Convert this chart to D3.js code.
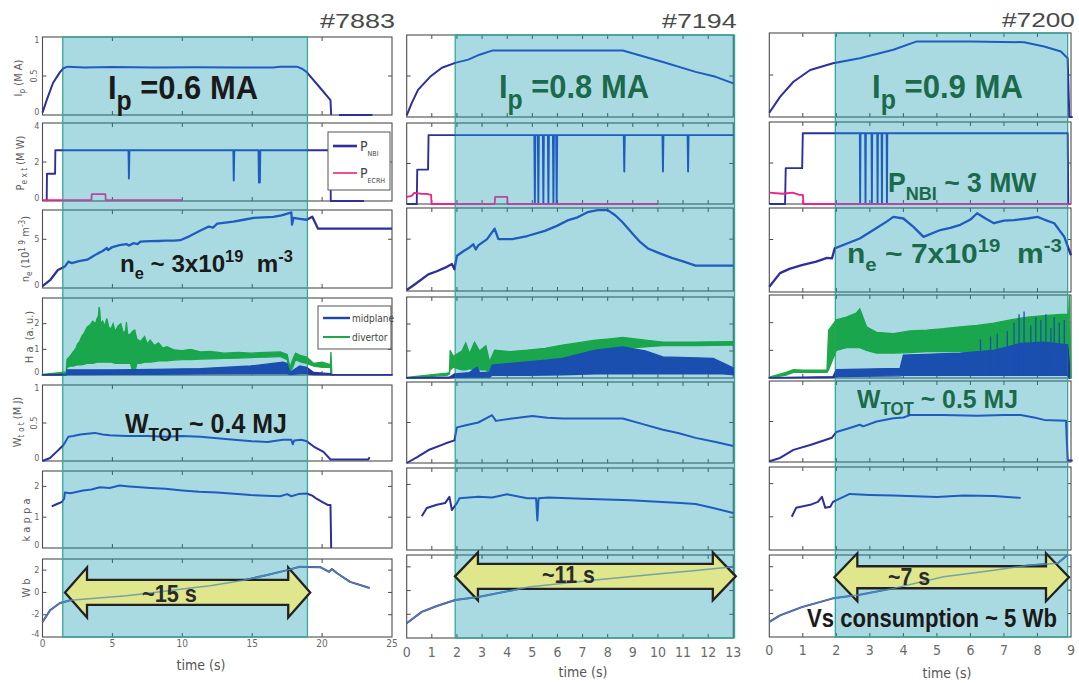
<!DOCTYPE html>
<html>
<head>
<meta charset="utf-8">
<script src="https://cdn.jsdelivr.net/npm/d3@7"></script>
<style>
  body { margin: 0; background: #fff; }
  svg { display: block; }
</style>
</head>
<body>
<svg id="chart" width="1079" height="683"></svg>
<script>
// ---------------- shot labels, time axes, flat-top windows ----------------
const shotLabels = ["#7883", "#7194", "#7200"];
const timeMax = [25, 13, 9];
const timeTicks7883 = [0, 5, 10, 15, 20, 25];
const timeTicks7194 = [0, 1, 2, 3, 4, 5, 6, 7, 8, 9, 10, 11, 12, 13];
const timeTicks7200 = [0, 1, 2, 3, 4, 5, 6, 7, 8, 9];
const flatTop = [[1.45, 18.95], [1.93, 13.05], [1.97, 8.9]];

// panel rows, top to bottom
const rowKeys = ["ip", "pext", "ne", "ha", "wtot", "kappa", "wb"];
const rowDomains = [[0, 1], [0, 4], [0, 8], [0, 3], [0, 1], [0, 2.5], [-4, 3]];
const rowTicks = [[0, 0.5, 1], [0, 2, 4], [0, 5], [0, 1, 2], [0, 0.5, 1], [0, 1, 2], [-4, -2, 0, 2]];

// ---------------- shot #7883 ----------------
const ip7883 = [[0,0.03],[0.3,0.19],[0.75,0.41],[1.25,0.55],[1.5,0.6],[1.8,0.62],[3,0.61],[5,0.615],[8,0.61],[11,0.612],[14,0.61],[16.5,0.61],[17,0.62],[18.2,0.62],[18.6,0.59],[18.9,0.55],[19.9,0.34],[20.6,0.19],[20.65,0],[20.9,null],[21.2,0],[23.6,0]];
const nbi7883 = [[0.3,0],[0.32,1.4],[0.9,1.4],[0.92,2.6],[6.15,2.6],[6.18,1.15],[6.22,2.6],[13.65,2.6],[13.68,1.05],[13.72,2.6],[15.45,2.6],[15.48,0.95],[15.55,0.95],[15.58,2.6],[20.6,2.6],[20.62,0],[23,0]];
const ecrh7883 = [[0,0.05],[3.5,0.05],[3.52,0.35],[4.5,0.35],[4.52,0.05],[10,0.05]];
const ne7883 = [[0,0.2],[0.54,0.8],[1.1,1.85],[1.6,2.2],[1.85,2.7],[2.1,2.55],[2.6,2.75],[3.2,2.9],[3.5,3.15],[3.9,3.5],[4.3,3.8],[4.6,4.1],[4.7,3.9],[5.0,4.2],[5.5,4.4],[6.0,4.5],[6.2,4.35],[6.5,4.6],[6.8,4.5],[7.0,4.75],[7.7,4.8],[8.3,4.82],[8.8,4.85],[9.4,4.85],[9.85,4.9],[10.5,5.3],[11.3,5.9],[11.9,6.3],[12.2,6.2],[12.5,6.6],[13.1,6.7],[13.65,6.8],[14.4,7.0],[15.1,7.2],[15.8,7.25],[16.5,7.3],[17.1,7.45],[17.7,7.7],[17.8,7.75],[17.85,6.5],[17.95,7.2],[18.4,7.1],[18.9,7.0],[19.3,7.3],[19.7,6.1],[25,6.1]];
const haDiv7883 = [[0,0,0.02],[1.4,0.03,0.1],[1.7,0.05,0.12],[1.75,0.3,0.6],[2.0,0.35,0.75],[2.2,0.35,0.9],[2.4,0.38,1.05],[2.5,0.4,1.2],[2.65,0.4,1.3],[2.8,0.4,1.5],[3.0,0.42,1.65],[3.2,0.45,1.87],[3.4,0.45,1.95],[3.6,0.45,2.1],[3.8,0.48,2.0],[3.9,0.5,2.2],[4.0,0.5,2.3],[4.05,0.5,2.65],[4.1,0.5,2.5],[4.15,0.5,2.0],[4.3,0.5,2.1],[4.45,0.5,1.9],[4.6,0.5,2.2],[4.75,0.5,1.85],[4.9,0.5,1.8],[5.05,0.48,2.0],[5.2,0.45,1.7],[5.4,0.45,1.9],[5.6,0.45,2.0],[5.8,0.45,1.6],[5.95,0.45,1.75],[6.0,0.45,2.06],[6.1,0.45,1.55],[6.3,0.45,1.6],[6.45,0.1,1.7],[6.6,0.1,1.75],[6.75,0.45,1.4],[7.0,0.45,1.3],[7.3,0.5,1.5],[7.5,0.5,1.2],[7.7,0.5,1.36],[8.0,0.52,1.15],[8.3,0.55,1.25],[8.6,0.55,1.05],[8.9,0.55,1.1],[9.4,0.58,0.98],[10,0.6,0.95],[10.6,0.6,1.0],[11.3,0.62,0.9],[12,0.63,0.92],[13,0.65,0.85],[14,0.66,0.88],[14.9,0.68,0.85],[16,0.7,0.88],[17,0.72,0.9],[17.5,0.6,0.8],[17.7,0.1,0.3],[17.9,0.3,0.6],[18.1,0.6,0.85],[18.5,0.5,0.75],[18.9,0.45,0.7],[19.4,0.35,0.45],[20,0.3,0.5],[20.6,0.3,0.4],[20.63,0,0.9],[20.7,0,0.02]];
const haMid7883 = [[0,0,0.01],[1.7,0,0.03],[1.75,0.02,0.2],[5,0.03,0.2],[8,0.03,0.22],[11.3,0.04,0.25],[14.9,0.05,0.35],[17.2,0.05,0.5],[17.5,0.05,0.45],[17.7,0.02,0.1],[18.4,0.05,0.35],[18.9,0.05,0.3],[19.4,0.02,0.1],[20.6,0.01,0.05],[20.7,0,0.01],[25,0,0.01]];
const wtot7883 = [[0,0],[0.54,0.04],[1.0,0.12],[1.5,0.21],[1.85,0.32],[2.2,0.33],[2.7,0.35],[3.2,0.36],[3.75,0.37],[4.3,0.35],[4.8,0.34],[6,0.33],[7.5,0.33],[8.9,0.32],[10,0.33],[11.3,0.32],[12.5,0.3],[13.7,0.28],[15,0.26],[16.1,0.25],[17.2,0.28],[17.8,0.28],[17.9,0.22],[18,0.27],[18.5,0.28],[18.9,0.26],[19.4,0.19],[20.1,0.12],[20.6,0.02],[23.3,0.02],[23.4,0.05]];
const kappa7883 = [[0.66,1.35],[1.0,1.42],[1.4,1.5],[1.55,1.6],[1.6,1.8],[2.0,1.78],[2.9,1.87],[3.5,1.9],[4.1,1.97],[4.8,1.95],[5.5,2.03],[6.2,2.0],[7.0,1.97],[7.7,1.95],[8.8,1.92],[10,1.87],[11.2,1.83],[12.5,1.8],[13.7,1.76],[14.9,1.72],[16,1.7],[17,1.68],[17.5,1.75],[17.8,1.68],[18.3,1.75],[18.9,1.77],[19.3,1.7],[19.6,1.6],[20,1.5],[20.4,1.4],[20.6,1.4],[20.65,0]];
const wb7883 = [[0,-2.65],[0.54,-1.6],[1.25,-0.95],[2,-0.7],[4,-0.5],[6,-0.3],[8,0.0],[10,0.3],[12,0.6],[14.4,1.1],[16,1.55],[17.5,2.0],[18.4,2.3],[19.9,2.25],[20.5,1.85],[20.7,2.1],[21.1,1.7],[22.0,0.95],[23.4,0.4]];
const spikes7883 = [];

// ---------------- shot #7194 ----------------
const ip7194 = [[0,0.02],[0.2,0.17],[0.45,0.33],[0.93,0.49],[1.4,0.6],[1.93,0.66],[2.45,0.7],[2.9,0.76],[3.4,0.81],[5,0.81],[7,0.81],[8.6,0.81],[9.4,0.74],[10.2,0.67],[11.5,0.55],[12.3,0.49],[13,0.41]];
const nbi7194 = [[0,0],[0.4,0],[0.42,1.7],[0.85,1.7],[0.87,3.4],[5.08,3.4],[5.1,0],[5.12,3.4],[5.22,3.4],[5.24,0],[5.26,3.4],[5.42,3.4],[5.44,0],[5.46,3.4],[5.62,3.4],[5.64,0],[5.66,3.4],[5.82,3.4],[5.84,0],[5.86,3.4],[5.95,3.4],[5.97,0],[5.99,3.4],[8.64,3.4],[8.66,1.6],[8.68,3.4],[10.18,3.4],[10.2,1.6],[10.22,3.4],[11.18,3.4],[11.2,1.6],[11.22,3.4],[13,3.4]];
const ecrh7194 = [[0,0.35],[0.2,0.4],[0.3,0.55],[0.6,0.5],[0.8,0.5],[0.97,0.45],[0.99,0],[3.5,0],[3.52,0.35],[4.0,0.35],[4.02,0],[10,0]];
const ne7194 = [[0,0.1],[0.33,0.65],[0.86,1.6],[1.2,1.9],[1.53,2.25],[1.8,2.6],[1.9,2.1],[2.0,3.4],[2.3,3.9],[2.5,4.2],[2.65,4.5],[2.75,4.0],[2.85,4.4],[3.2,5.0],[3.5,6.0],[3.65,5.0],[4.2,5.0],[4.8,5.3],[5.5,5.8],[6.0,6.3],[6.4,6.8],[6.8,7.1],[7.2,7.6],[7.6,7.8],[8.0,7.8],[8.3,7.3],[8.6,6.6],[9.0,5.5],[9.3,4.7],[9.6,4.1],[10.1,3.6],[10.55,3.2],[11.0,2.85],[11.5,2.45],[13,2.45]];
const haDiv7194 = [[0,0,0.02],[1.6,0.1,0.18],[1.7,0.15,0.2],[1.73,0.3,1.03],[1.85,0.4,0.8],[2.2,0.3,1.0],[2.35,0.3,1.3],[2.5,0.35,0.9],[2.7,0.3,1.33],[2.9,0.3,1.0],[3.15,0.3,1.2],[3.3,0.2,0.6],[3.5,0.5,1.03],[4.1,0.55,0.98],[4.8,0.6,1.03],[5.5,0.7,1.1],[6.2,0.75,1.22],[6.8,0.85,1.3],[7.5,0.95,1.4],[8.1,1.05,1.45],[8.6,1.1,1.5],[9.5,1.15,1.4],[10.2,1.2,1.33],[11.5,1.2,1.33],[13,1.22,1.35]];
const haMid7194 = [[0,0,0.01],[1.7,0,0.03],[1.9,0.02,0.15],[2.5,0.03,0.2],[2.8,0.03,0.4],[2.9,0.03,0.2],[3.3,0.03,0.22],[3.4,0.1,0.48],[4.8,0.1,0.6],[6.2,0.12,0.73],[7.5,0.15,1.03],[8.6,0.15,1.15],[9.5,0.15,1.0],[10.2,0.15,0.78],[12.2,0.15,0.73],[12.6,0.15,0.55],[13,0.12,0.37]];
const wtot7194 = [[0,0],[0.4,0.07],[0.87,0.16],[1.53,0.24],[1.9,0.28],[2.0,0.44],[2.4,0.47],[2.85,0.5],[3.4,0.59],[3.55,0.52],[4.2,0.55],[5.0,0.58],[5.6,0.56],[6.2,0.55],[7.4,0.55],[8.6,0.55],[9.4,0.48],[10.2,0.41],[10.8,0.37],[11.5,0.31],[12.3,0.26],[13,0.21]];
const kappa7194 = [[0.6,1.03],[0.8,1.28],[1.2,1.38],[1.53,1.43],[1.7,1.62],[1.8,1.22],[2.0,1.43],[2.1,1.58],[2.85,1.62],[3.4,1.6],[4.0,1.7],[4.8,1.58],[5.15,1.58],[5.2,0.9],[5.25,1.58],[5.65,1.6],[7,1.56],[8.9,1.52],[10.9,1.43],[11.5,1.4],[12.2,1.28],[13,1.13]];
const wb7194 = [[0,-2.75],[0.6,-1.8],[1.2,-1.3],[1.93,-0.8],[2.85,-0.55],[4.85,0.3],[7.5,0.9],[10.2,1.45],[11.5,1.7],[13,2.0]];
const spikes7194 = [];

// ---------------- shot #7200 ----------------
const ip7200 = [[0,0.05],[0.32,0.24],[0.72,0.42],[1.22,0.56],[1.9,0.64],[2.7,0.7],[3.7,0.8],[4.4,0.9],[6,0.9],[7.6,0.89],[8.2,0.84],[8.7,0.78],[8.9,0.7],[8.95,0],[9.05,0]];
const nbi7200 = [[0,0],[0.47,0],[0.49,1.75],[0.98,1.75],[1.0,3.45],[2.70,3.45],[2.71,0],[2.72,3.45],[2.86,3.45],[2.87,0],[2.88,3.45],[3.05,3.45],[3.06,0],[3.07,3.45],[3.22,3.45],[3.23,0],[3.24,3.45],[3.35,3.45],[3.36,0],[3.37,3.45],[3.5,3.45],[3.51,0],[3.52,3.45],[8.9,3.45],[8.92,0]];
const ecrh7200 = [[0,0.55],[0.4,0.5],[0.7,0.55],[0.9,0.45],[1.0,0.45],[1.02,0],[9,0]];
const ne7200 = [[0,0.5],[0.32,1.8],[0.6,2.2],[0.97,2.55],[1.4,2.9],[1.72,3.25],[1.87,3.2],[1.95,4.15],[2.3,4.6],[2.7,5.1],[3.2,6.1],[3.5,6.7],[3.7,7.15],[4.0,7.0],[4.3,6.2],[4.6,5.25],[5.1,5.9],[5.4,6.1],[5.7,6.4],[6.0,6.9],[6.2,7.5],[6.45,7.0],[6.7,6.55],[7.0,6.8],[7.3,6.85],[7.7,7.0],[8.0,7.15],[8.2,6.9],[8.5,6.55],[8.8,5.25],[9.0,3.5]];
const haDiv7200 = [[0,0,0.03],[0.5,0.1,0.2],[0.72,0.2,0.3],[1.0,0.2,0.28],[1.72,0.2,0.28],[1.77,0.3,1.73],[2.0,1.0,2.1],[2.3,1.1,2.2],[2.6,1.1,2.35],[2.7,1.1,2.5],[2.9,1.0,1.85],[3.2,0.9,1.65],[3.7,0.9,1.6],[4.2,0.92,1.7],[4.7,0.95,1.73],[5.2,0.95,1.78],[5.7,0.95,1.85],[6.2,0.95,1.9],[6.7,0.95,1.98],[7.2,0.95,2.1],[7.7,0.95,2.2],[8.2,0.95,2.25],[8.7,0.95,2.3],[8.93,0.95,2.3],[8.95,0,3.0],[9.0,0,0]];
const haMid7200 = [[0,0,0.01],[1.9,0.01,0.05],[2.0,0.05,0.3],[3.9,0.08,0.35],[4.0,0.1,0.83],[5.7,0.1,0.9],[6.7,0.1,1.0],[7.5,0.1,1.25],[8.2,0.1,1.3],[8.9,0.1,1.2],[8.95,0,0.5]];
const spikes7200 = [[6.3,1.4],[6.6,1.5],[6.8,1.6],[7.1,1.7],[7.3,2.0],[7.45,2.3],[7.6,2.4],[7.8,1.9],[7.95,2.2],[8.1,2.1],[8.25,2.3],[8.4,1.8],[8.5,2.2],[8.65,2.0],[8.8,2.1]];
const wtot7200 = [[0,0.01],[0.32,0.05],[0.72,0.15],[1.22,0.21],[1.87,0.3],[2.0,0.37],[2.4,0.42],[2.7,0.46],[2.8,0.44],[3.2,0.5],[3.7,0.54],[4.0,0.55],[4.2,0.58],[5.2,0.58],[6.2,0.57],[7.0,0.58],[7.5,0.58],[7.9,0.55],[8.2,0.52],[8.85,0.51],[8.9,0.02],[9.05,0.02]];
const kappa7200 = [[0.67,1.0],[0.8,1.27],[1.22,1.36],[1.45,1.45],[1.57,1.6],[1.67,1.27],[1.82,1.3],[1.9,1.45],[2.1,1.55],[2.4,1.69],[3.0,1.66],[3.7,1.64],[5.0,1.6],[5.8,1.64],[6.7,1.63],[7.5,1.57]];
const wb7200 = [[0,-2.7],[0.32,-2.15],[0.97,-1.45],[1.9,-0.7],[2.7,-0.4],[3.7,0.15],[5.2,1.15],[6.7,1.7],[7.7,2.1],[8.6,2.3],[8.9,3.0]];

// flux-consumption arrows: [start time, end time, Wb level] and their labels
const arrowSpans = [[1.61, 19.15, 0], [1.92, 13.1, 1.2], [1.94, 8.94, 1.1]];
const arrowLabels = ["~15 s", "~11 s", "~7 s"];

// ---------------- assemble per-shot tables ----------------
const shots = [
  { label: shotLabels[0], tMax: timeMax[0], ticks: timeTicks7883, window: flatTop[0], ip: ip7883, nbi: nbi7883, ecrh: ecrh7883, ne: ne7883, haDiv: haDiv7883, haMid: haMid7883, spikes: spikes7883, wtot: wtot7883, kappa: kappa7883, wb: wb7883, arrow: arrowSpans[0], arrowLabel: arrowLabels[0] },
  { label: shotLabels[1], tMax: timeMax[1], ticks: timeTicks7194, window: flatTop[1], ip: ip7194, nbi: nbi7194, ecrh: ecrh7194, ne: ne7194, haDiv: haDiv7194, haMid: haMid7194, spikes: spikes7194, wtot: wtot7194, kappa: kappa7194, wb: wb7194, arrow: arrowSpans[1], arrowLabel: arrowLabels[1] },
  { label: shotLabels[2], tMax: timeMax[2], ticks: timeTicks7200, window: flatTop[2], ip: ip7200, nbi: nbi7200, ecrh: ecrh7200, ne: ne7200, haDiv: haDiv7200, haMid: haMid7200, spikes: spikes7200, wtot: wtot7200, kappa: kappa7200, wb: wb7200, arrow: arrowSpans[2], arrowLabel: arrowLabels[2] }
];

// ---------------- layout ----------------
const layout = [
  { x0: 42.5, x1: 392, rows: [[37,115],[123,201],[210,288],[298,375],[385,461],[471,548],[559,637]], tickSize: 10, tickY: 647, timeX: 201, timeY: 670, titleR: 395, titleY: 28, titleW: 75, arrowHead: [22, 25, 12.5], labelBox: [142, 602, 55] },
  { x0: 406.7, x1: 733.3, rows: [[35,117],[123,204],[208,291],[297,378],[382,463],[468,550],[555,638]], tickSize: 14, tickY: 657, timeX: 583, timeY: 677, titleR: 737, titleY: 28, titleW: 75, arrowHead: [23, 24, 12.5], labelBox: [542, 583, 53] },
  { x0: 769.3, x1: 1071, rows: [[33,117],[122,204],[208,292],[295,378],[381,462],[467,550],[555,637]], tickSize: 14, tickY: 655, timeX: 947, timeY: 678, titleR: 1075, titleY: 27, titleW: 73, arrowHead: [23, 24, 11], labelBox: [888, 585, 42] }
];

const SANS = "'Liberation Sans', Arial, Helvetica, sans-serif";
const NARROW = "'Liberation Sans Narrow', 'DejaVu Sans Condensed', 'Liberation Sans', sans-serif";
// trace colours before/after the flat-top window and inside it
const COLORS = {
  trace:  { out: "#2d2f9a", in: "#1f5cbf" },
  ecrh:   { out: "#ec2288", in: "#b8489e" },
  haMid:  { out: "#25359c", in: "#1a4fb0" },
  haDiv:  { out: "#1fa847", in: "#19a64c" }
};
const HA_BLUE = "#1f44b0";
const HA_GREEN = "#1fa847";
const PINK = "#ec2288";
const NAVY = "#2d2f9a";
const FRAME = "#4d4d4d";
const TEXT_GREEN = "#1c6a4c";
const TEXT_DARK = "#1a1a1a";

const svg = d3.select("#chart");
svg.append("rect").attr("width", 1079).attr("height", 683).attr("fill", "#fff");
const defs = svg.append("defs");

// Text made of plain, subscript and superscript runs
function richText(parent, parts, size, opts = {}) {
  const subScale = opts.subScale ?? 0.68;
  const subDy = opts.subDy ?? size * 0.28;
  const supDy = opts.supDy ?? size * 0.4;
  const t = parent.append("text")
    .attr("font-family", opts.family || SANS)
    .attr("font-weight", opts.weight || "bold")
    .attr("font-size", size)
    .attr("fill", opts.color || TEXT_DARK)
    .style("white-space", "pre");
  let cur = 0;
  parts.forEach(([s, k]) => {
    const target = k === "sub" ? subDy : k === "sup" ? -supDy : 0;
    const ts = t.append("tspan").attr("dy", target - cur).text(s);
    if (k) ts.attr("font-size", size * subScale);
    cur = target;
  });
  return t;
}

// Stretch or squeeze a text run horizontally so it spans the given width from x
function fitTo(textSel, x, y, width) {
  const bb = textSel.node().getBBox();
  const sx = width / bb.width;
  textSel.attr("transform", `translate(${x - bb.x * sx},${y}) scale(${sx},1)`);
}

shots.forEach((shot, ci) => {
  const L = layout[ci];
  const col = svg.append("g");
  const x = d3.scaleLinear().domain([0, shot.tMax]).range([L.x0, L.x1]);
  const wx0 = x(shot.window[0]), wx1 = x(shot.window[1]);
  const yScales = [];

  const framesG = col.append("g");
  const shadeG = col.append("g");
  const tracesG = col.append("g");

  L.rows.forEach(([top, bottom], ri) => {
    const key = rowKeys[ri];
    const y = d3.scaleLinear().domain(rowDomains[ri]).range([bottom, top]);
    yScales.push(y);

    // two clip regions per panel: inside the flat-top window and outside it
    const inId = `in-${ci}-${ri}`, outId = `out-${ci}-${ri}`;
    const cin = defs.append("clipPath").attr("id", inId);
    cin.append("rect").attr("x", Math.max(wx0, L.x0)).attr("y", top - 1)
      .attr("width", Math.min(wx1, L.x1 + 2) - Math.max(wx0, L.x0)).attr("height", bottom - top + 2);
    const cout = defs.append("clipPath").attr("id", outId);
    cout.append("rect").attr("x", L.x0 - 2).attr("y", top - 1).attr("width", wx0 - L.x0 + 2).attr("height", bottom - top + 2);
    if (wx1 < L.x1) cout.append("rect").attr("x", wx1).attr("y", top - 1).attr("width", L.x1 - wx1 + 2).attr("height", bottom - top + 2);

    const pg = framesG.append("g");
    pg.append("rect").attr("x", L.x0).attr("y", top).attr("width", L.x1 - L.x0).attr("height", bottom - top)
      .attr("fill", "#fff").attr("stroke", FRAME).attr("stroke-width", 1.1);

    // inward ticks on all four sides
    const tk = 4;
    shot.ticks.forEach(v => {
      const px = x(v);
      if (px <= L.x0 + 0.5 || px >= L.x1 - 0.5) return;
      pg.append("line").attr("x1", px).attr("x2", px).attr("y1", bottom).attr("y2", bottom - tk).attr("stroke", FRAME);
      pg.append("line").attr("x1", px).attr("x2", px).attr("y1", top).attr("y2", top + tk).attr("stroke", FRAME);
    });
    rowTicks[ri].forEach(v => {
      const py = y(v);
      if (py >= bottom - 0.5 || py <= top + 0.5) return;
      pg.append("line").attr("x1", L.x0).attr("x2", L.x0 + tk).attr("y1", py).attr("y2", py).attr("stroke", FRAME);
      pg.append("line").attr("x1", L.x1).attr("x2", L.x1 - tk).attr("y1", py).attr("y2", py).attr("stroke", FRAME);
    });

    // y tick labels on the first shot only
    if (ci === 0) {
      rowTicks[ri].forEach(v => {
        const lab = String(v);
        const py = y(v);
        const t = pg.append("text").attr("font-family", NARROW).attr("font-size", 9).attr("fill", "#666").text(lab);
        if (lab.includes(".")) {
          t.attr("text-anchor", "middle").attr("transform", `translate(37,${py}) rotate(-90)`);
        } else {
          t.attr("text-anchor", "end").attr("dominant-baseline", "middle").attr("x", 39.5).attr("y", Math.min(Math.max(py, top + 3), bottom - 3));
        }
      });
    }

    const line = d3.line().defined(d => d[1] !== null).x(d => x(d[0])).y(d => y(d[1]));
    const area = d3.area().x(d => x(d[0])).y0(d => y(d[1])).y1(d => y(d[2]));

    // draw one series twice, recoloured inside the window
    const both = (draw) => {
      draw(tracesG.append("g").attr("clip-path", `url(#${outId})`), "out");
      draw(tracesG.append("g").attr("clip-path", `url(#${inId})`), "in");
    };
    const stroke = (data, pal, w) => both((g, side) => g.append("path").attr("d", line(data)).attr("fill", "none")
      .attr("stroke", pal[side]).attr("stroke-width", w).attr("stroke-linejoin", "round"));
    const band = (data, pal) => both((g, side) => g.append("path").attr("d", area(data))
      .attr("fill", pal[side]).attr("stroke", pal[side]).attr("stroke-width", 1.3));

    if (key === "ip") stroke(shot.ip, COLORS.trace, 2);
    if (key === "pext") { stroke(shot.nbi, COLORS.trace, 1.9); stroke(shot.ecrh, COLORS.ecrh, 1.8); }
    if (key === "ne") stroke(shot.ne, COLORS.trace, 2.3);
    if (key === "ha") {
      band(shot.haDiv, COLORS.haDiv);
      band(shot.haMid, COLORS.haMid);
      both((g, side) => shot.spikes.forEach(s => {
        g.append("line").attr("x1", x(s[0])).attr("x2", x(s[0])).attr("y1", y(0.1)).attr("y2", y(s[1]))
          .attr("stroke", COLORS.haMid[side]).attr("stroke-width", 1.3);
      }));
    }
    if (key === "wtot") stroke(shot.wtot, COLORS.trace, 2);
    if (key === "kappa") stroke(shot.kappa, COLORS.trace, 2);
    if (key === "wb") stroke(shot.wb, COLORS.trace, 2);
  });

  // flat-top window, tinted over the frames and beneath the traces
  const winTop = L.rows[0][0], winBottom = L.rows[6][1];
  shadeG.append("rect")
    .attr("x", wx0).attr("y", winTop)
    .attr("width", wx1 - wx0).attr("height", winBottom - winTop)
    .attr("fill", "rgb(12,150,170)").attr("fill-opacity", 0.35)
    .attr("stroke", "#35a89b").attr("stroke-width", 1.3);

  // double arrow marking the flat-top duration in the flux panel
  const yWb = yScales[6];
  const [hl, hh, sh] = L.arrowHead;
  const xl = x(shot.arrow[0]), xr = x(shot.arrow[1]), yc = yWb(shot.arrow[2]);
  const pts = [[xl, yc], [xl + hl, yc - hh], [xl + hl, yc - sh], [xr - hl, yc - sh], [xr - hl, yc - hh], [xr, yc],
               [xr - hl, yc + hh], [xr - hl, yc + sh], [xl + hl, yc + sh], [xl + hl, yc + hh]];
  col.append("polygon").attr("points", pts.map(p => p.join(",")).join(" "))
    .attr("fill", "#dfe68c").attr("stroke", "#222").attr("stroke-width", 2.3).attr("stroke-linejoin", "miter");
  // flux trace seen through the arrow
  const wbLine = d3.line().x(d => x(d[0])).y(d => yWb(d[1]));
  col.append("path").attr("d", wbLine(shot.wb)).attr("fill", "none")
    .attr("stroke", "#5b93ad").attr("stroke-opacity", 0.8).attr("stroke-width", 1.5);
  const al = richText(col, [[shot.arrowLabel, ""]], 24, { color: "#2a2a2a" });
  fitTo(al, L.labelBox[0], L.labelBox[1], L.labelBox[2]);

  // shot number
  const title = col.append("text").attr("font-family", SANS).attr("font-size", 21).attr("fill", "#4a4a4a").text(shot.label);
  fitTo(title, L.titleR - L.titleW, L.titleY, L.titleW);

  // time axis labels and title
  shot.ticks.forEach(v => {
    col.append("text").attr("x", x(v)).attr("y", L.tickY).attr("text-anchor", "middle")
      .attr("font-family", NARROW).attr("font-size", L.tickSize).attr("fill", "#6a6a6a").text(v);
  });
  col.append("text").attr("x", L.timeX).attr("y", L.timeY).attr("text-anchor", "middle")
    .attr("font-family", NARROW).attr("font-size", 14).attr("fill", "#555").text("time (s)");
});

// ---------------- y-axis titles for the first shot ----------------
const axisTitles = [
  { parts: [["I", ""], ["p", "sub"], [" (M A)", ""]], x: 22, y: 78 },
  { parts: [["P", ""], ["e x t", "sub"], [" (M W)", ""]], x: 24, y: 163 },
  { parts: [["n", ""], ["e", "sub"], [" (10", ""], ["1 9", "sup"], [" m", ""], ["-3", "sup"], [")", ""]], x: 29, y: 249 },
  { parts: [["H a  (a. u.)", ""]], x: 33, y: 337 },
  { parts: [["W", ""], ["t o t", "sub"], [" (M J)", ""]], x: 21, y: 422 },
  { parts: [["k a p p a", ""]], x: 30, y: 520 },
  { parts: [["W b", ""]], x: 30, y: 588 }
];
axisTitles.forEach(a => {
  const t = richText(svg, a.parts, 11, { weight: "normal", family: NARROW, color: "#5a5a5a", subScale: 0.75 });
  t.attr("text-anchor", "middle").attr("transform", `translate(${a.x},${a.y}) rotate(-90)`);
});

// ---------------- legends on the first shot ----------------
function legend(box, items) {
  const g = svg.append("g");
  g.append("rect").attr("x", box[0]).attr("y", box[1]).attr("width", box[2]).attr("height", box[3])
    .attr("fill", "#fff").attr("stroke", "#555").attr("stroke-width", 1);
  items.forEach(it => {
    g.append("line").attr("x1", it.x1).attr("x2", it.x2).attr("y1", it.y).attr("y2", it.y)
      .attr("stroke", it.color).attr("stroke-width", it.w);
    const t = richText(g, it.parts, it.size, { weight: "normal", family: NARROW, color: "#444", subScale: 0.5, subDy: it.size * 0.35 });
    t.attr("x", it.tx).attr("y", it.y + it.size * 0.35);
  });
}
legend([328, 132, 62, 58], [
  { x1: 333, x2: 357, y: 146, color: NAVY, w: 2.6, parts: [["P", ""], ["NBI", "sub"]], size: 14, tx: 360 },
  { x1: 333, x2: 357, y: 173, color: PINK, w: 1.6, parts: [["P", ""], ["ECRH", "sub"]], size: 14, tx: 360 }
]);
legend([318, 306, 73, 43], [
  { x1: 323, x2: 350, y: 318, color: HA_BLUE, w: 2.4, parts: [["midplane", ""]], size: 10, tx: 352 },
  { x1: 323, x2: 350, y: 337, color: HA_GREEN, w: 2.0, parts: [["divertor", ""]], size: 10, tx: 352 }
]);

// ---------------- headline annotations ----------------
const notes = [
  { parts: [["I", ""], ["p", "sub"], [" =0.6 MA", ""]], x: 108, y: 99, w: 150, size: 34, color: TEXT_DARK, subScale: 0.8, subDy: 11 },
  { parts: [["n", ""], ["e", "sub"], [" ~ 3x10", ""], ["19", "sup"], ["  m", ""], ["-3", "sup"]], x: 120, y: 272, w: 173, size: 24, color: TEXT_DARK },
  { parts: [["W", ""], ["TOT", "sub"], [" ~ 0.4 MJ", ""]], x: 125, y: 433, w: 162, size: 28, color: TEXT_DARK },
  { parts: [["I", ""], ["p", "sub"], [" =0.8 MA", ""]], x: 499, y: 98, w: 150, size: 34, color: TEXT_GREEN, subScale: 0.8, subDy: 11 },
  { parts: [["I", ""], ["p", "sub"], [" =0.9 MA", ""]], x: 872, y: 98, w: 151, size: 34, color: TEXT_GREEN, subScale: 0.8, subDy: 11 },
  { parts: [["P", ""], ["NBI", "sub"], [" ~ 3 MW", ""]], x: 888, y: 192, w: 149, size: 28, color: TEXT_GREEN },
  { parts: [["n", ""], ["e", "sub"], [" ~ 7x10", ""], ["19", "sup"], ["  m", ""], ["-3", "sup"]], x: 847, y: 263, w: 215, size: 28, color: TEXT_GREEN },
  { parts: [["W", ""], ["TOT", "sub"], [" ~ 0.5 MJ", ""]], x: 857, y: 408, w: 161, size: 26, color: TEXT_GREEN },
  { parts: [["Vs consumption ~ 5 Wb", ""]], x: 807, y: 627, w: 250, size: 26, color: TEXT_DARK }
];
notes.forEach(n => {
  const t = richText(svg, n.parts, n.size, { color: n.color, subScale: n.subScale, subDy: n.subDy });
  fitTo(t, n.x, n.y, n.w);
});
</script>
</body>
</html>
